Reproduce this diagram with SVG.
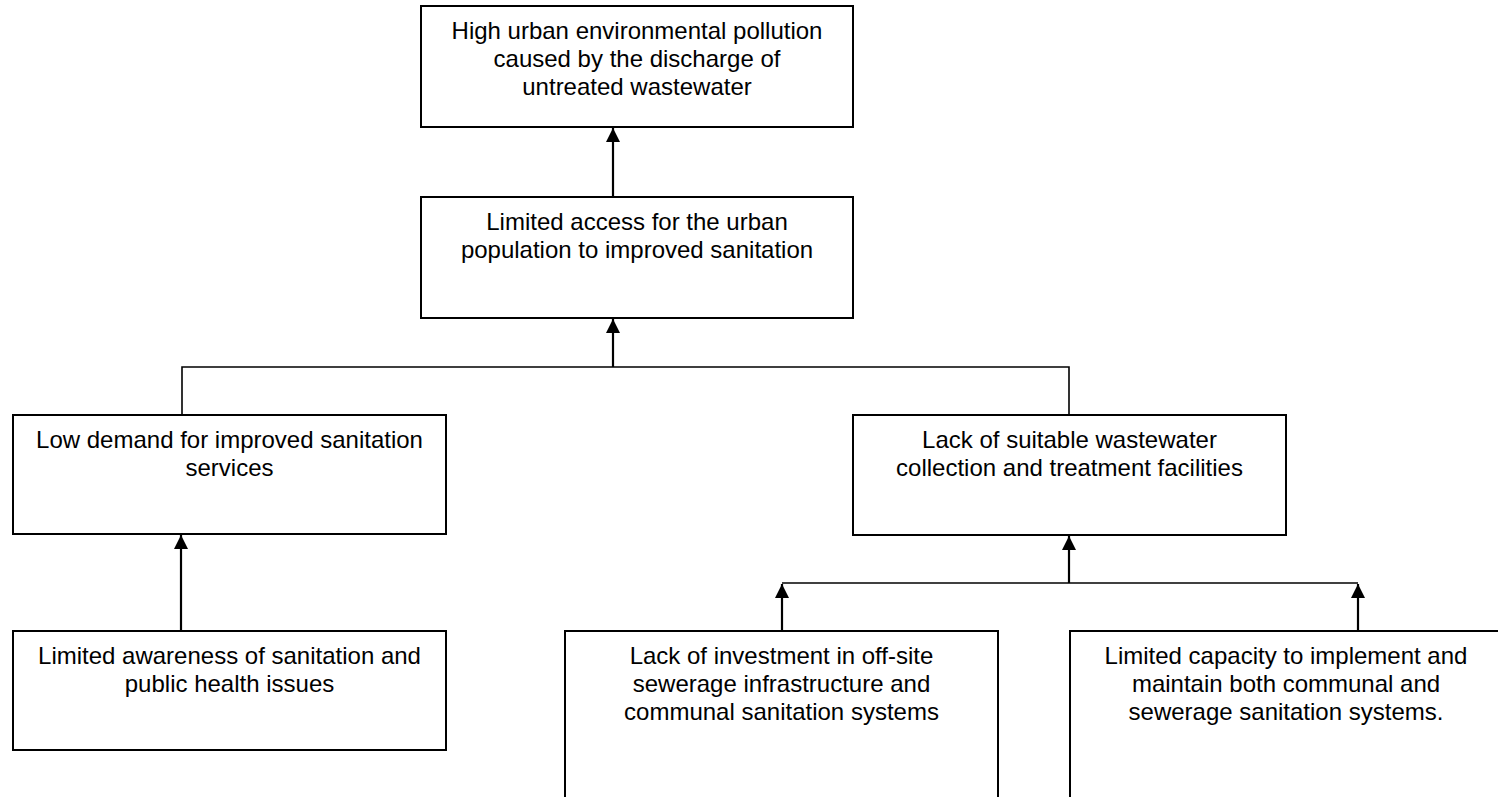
<svg xmlns="http://www.w3.org/2000/svg" width="1498" height="797" viewBox="0 0 1498 797">
<defs>
<marker id="arr" viewBox="0 0 14 14" refX="14" refY="7" markerWidth="14" markerHeight="14" markerUnits="userSpaceOnUse" orient="auto">
<path d="M0,0 L14,7 L0,14 Z" fill="#000"/>
</marker>
<style>
.box{fill:#fff;stroke:#000;stroke-width:2}
.t{font-family:"Liberation Sans",Arial,sans-serif;font-size:24px;fill:#000;text-anchor:middle}
.ln{fill:none;stroke:#000;stroke-width:1.6}
.ar{fill:none;stroke:#000;stroke-width:2.2;marker-end:url(#arr)}
</style>
</defs>
<rect width="1498" height="797" fill="#fff"/>
<g id="connectors">
<line class="ar" x1="613" y1="197" x2="613" y2="128"/>
<polyline class="ln" points="182,415 182,367 1069,367 1069,415"/>
<line class="ar" x1="613" y1="367" x2="613" y2="319"/>
<line class="ar" x1="181" y1="631" x2="181" y2="535"/>
<line class="ln" x1="782" y1="583" x2="1358" y2="583"/>
<line class="ar" x1="1069" y1="583" x2="1069" y2="536"/>
<line class="ar" x1="782" y1="631" x2="782" y2="584"/>
<line class="ar" x1="1358" y1="631" x2="1358" y2="584"/>
</g>
<g id="n1">
<rect class="box" x="421" y="6" width="432" height="121"/>
<text class="t" x="637" y="39">High urban environmental pollution</text>
<text class="t" x="637" y="67">caused by the discharge of</text>
<text class="t" x="637" y="95">untreated wastewater</text>
</g>
<g id="n2">
<rect class="box" x="421" y="197" width="432" height="121"/>
<text class="t" x="637" y="230">Limited access for the urban</text>
<text class="t" x="637" y="258">population to improved sanitation</text>
</g>
<g id="n3">
<rect class="box" x="13" y="415" width="433" height="119"/>
<text class="t" x="229.5" y="448">Low demand for improved sanitation</text>
<text class="t" x="229.5" y="476">services</text>
</g>
<g id="n4">
<rect class="box" x="853" y="415" width="433" height="120"/>
<text class="t" x="1069.5" y="448">Lack of suitable wastewater</text>
<text class="t" x="1069.5" y="476">collection and treatment facilities</text>
</g>
<g id="n5">
<rect class="box" x="13" y="631" width="433" height="119"/>
<text class="t" x="229.5" y="664">Limited awareness of sanitation and</text>
<text class="t" x="229.5" y="692">public health issues</text>
</g>
<g id="n6">
<rect class="box" x="565" y="631" width="433" height="180"/>
<text class="t" x="781.5" y="664">Lack of investment in off-site</text>
<text class="t" x="781.5" y="692">sewerage infrastructure and</text>
<text class="t" x="781.5" y="720">communal sanitation systems</text>
</g>
<g id="n7">
<rect class="box" x="1070" y="631" width="432" height="180"/>
<text class="t" x="1286" y="664">Limited capacity to implement and</text>
<text class="t" x="1286" y="692">maintain both communal and</text>
<text class="t" x="1286" y="720">sewerage sanitation systems.</text>
</g>
</svg>
